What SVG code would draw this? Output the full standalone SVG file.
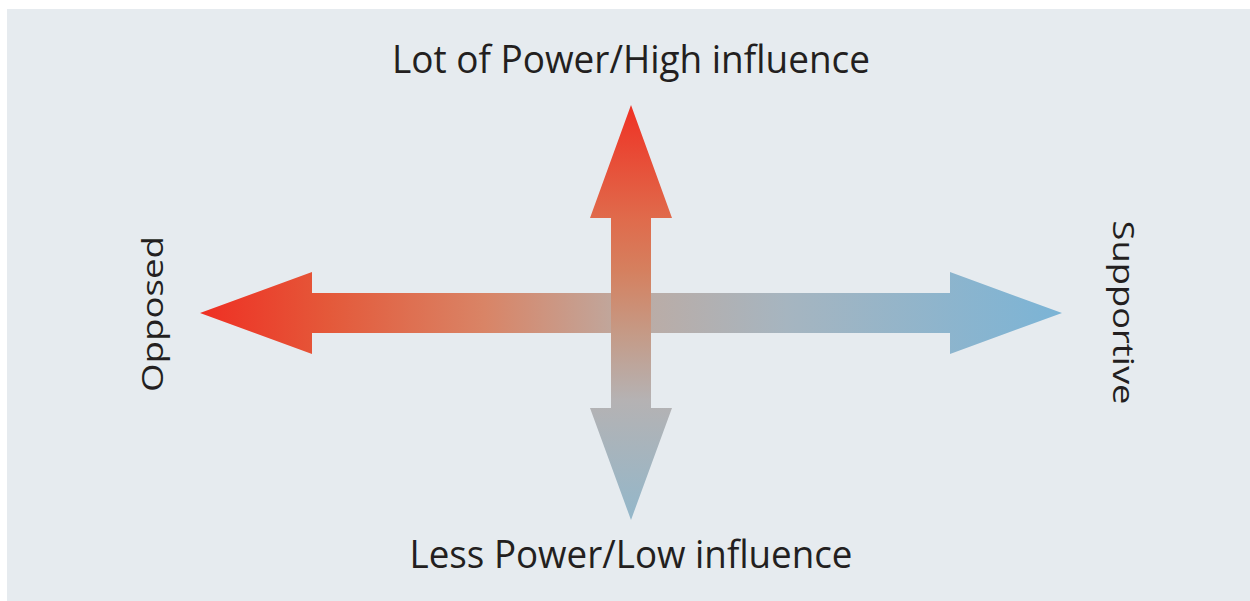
<svg xmlns="http://www.w3.org/2000/svg" width="1250" height="601" viewBox="0 0 1250 601">
  <defs>
    <linearGradient id="gh" gradientUnits="userSpaceOnUse" x1="200" y1="0" x2="1062" y2="0">
      <stop offset="0" stop-color="#ef2f23"/>
      <stop offset="0.15" stop-color="#e4593a"/>
      <stop offset="0.33" stop-color="#d98466"/>
      <stop offset="0.5" stop-color="#bdaba3"/>
      <stop offset="0.68" stop-color="#a6b5c0"/>
      <stop offset="1" stop-color="#7bb4d6"/>
    </linearGradient>
    <linearGradient id="gv" gradientUnits="userSpaceOnUse" x1="0" y1="105" x2="0" y2="520">
      <stop offset="0" stop-color="#ef3124"/>
      <stop offset="0.27" stop-color="#e06a4b"/>
      <stop offset="0.40" stop-color="#d5805f"/>
      <stop offset="0.55" stop-color="#c59a86"/>
      <stop offset="0.71" stop-color="#b5b2b3"/>
      <stop offset="1" stop-color="#93b7ca"/>
    </linearGradient>
  </defs>
  <style>
    .lbl { font-family: "Open Sans", "Noto Sans", "Liberation Sans", sans-serif; fill: #231f20; text-anchor: middle; }
    .big { font-size: 39px; }
    .side { font-size: 30px; }
  </style>
  <rect x="7" y="9" width="1243" height="592" fill="#e6ebef"/>
  <g id="connectors">
    <polygon id="arrow-horizontal" fill="url(#gh)" points="200,313 312,272 312,293 950,293 950,272 1062,313 950,354 950,333 312,333 312,354"/>
    <polygon id="arrow-vertical" fill="url(#gv)" points="631,105 672,218 651,218 651,408 672,408 631,520 590,408 611,408 611,218 590,218"/>
  </g>
  <g id="node-high">
    <text class="lbl big" x="631" y="73" textLength="478" lengthAdjust="spacingAndGlyphs">Lot of Power/High influence</text>
  </g>
  <g id="node-low">
    <text class="lbl big" x="631" y="568" textLength="443" lengthAdjust="spacingAndGlyphs">Less Power/Low influence</text>
  </g>
  <g id="node-opposed">
    <text class="lbl side" transform="translate(163,314) rotate(-90)" x="0" y="0" textLength="156" lengthAdjust="spacingAndGlyphs">Opposed</text>
  </g>
  <g id="node-supportive">
    <text class="lbl side" transform="translate(1113,312.5) rotate(90)" x="0" y="0" textLength="184" lengthAdjust="spacingAndGlyphs">Supportive</text>
  </g>
</svg>
